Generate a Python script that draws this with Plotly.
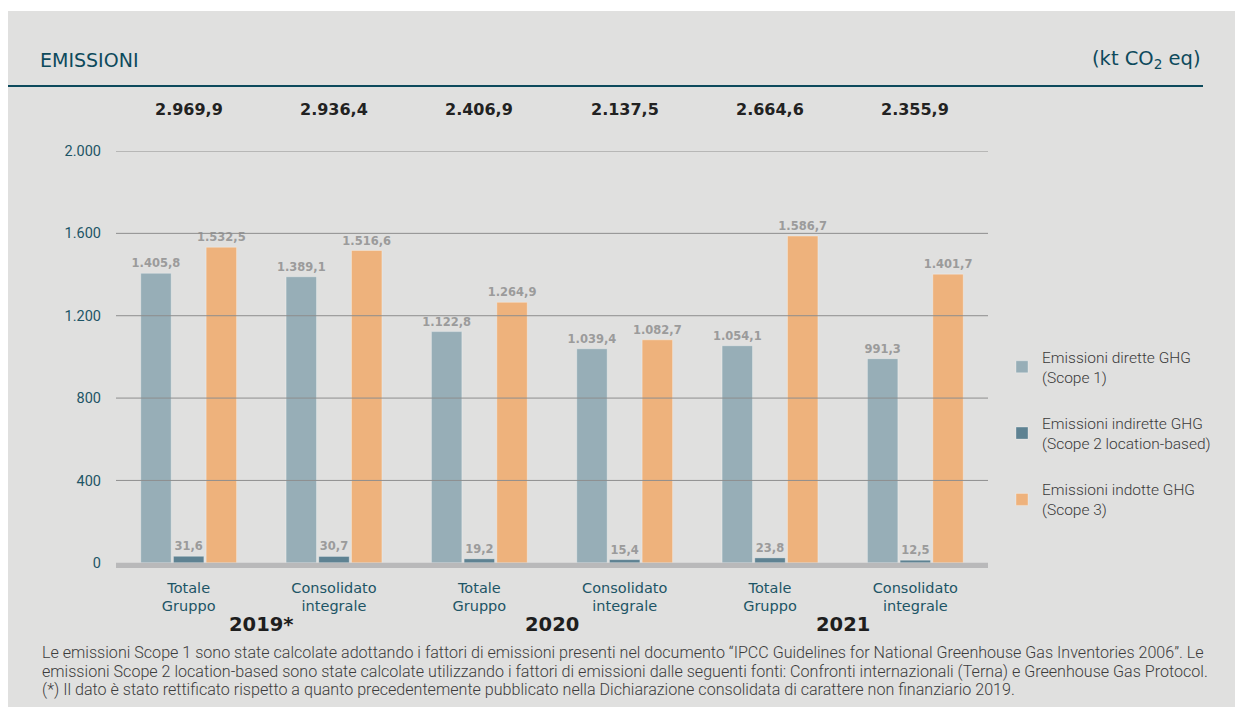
import plotly.graph_objects as go

# data
groups = ["Totale<br>Gruppo", "Consolidato<br>integrale"] * 3
years = ["2019*", "2020", "2021"]
scope1 = [1405.8, 1389.1, 1122.8, 1039.4, 1054.1, 991.3]
scope2 = [31.6, 30.7, 19.2, 15.4, 23.8, 12.5]
scope3 = [1532.5, 1516.6, 1264.9, 1082.7, 1586.7, 1401.7]
totals = [2969.9, 2936.4, 2406.9, 2137.5, 2664.6, 2355.9]
y_ticks = [0, 400, 800, 1200, 1600, 2000]

series = [
    ("Emissioni dirette GHG<br>(Scope 1)", scope1, "#97aeb7"),
    ("Emissioni indirette GHG<br>(Scope 2 location-based)", scope2, "#5e8292"),
    ("Emissioni indotte GHG<br>(Scope 3)", scope3, "#eeb27c"),
]
note_lines = [
    "Le emissioni Scope 1 sono state calcolate adottando i fattori di emissioni presenti nel documento "
    "“IPCC Guidelines for National Greenhouse Gas Inventories 2006”. Le",
    "emissioni Scope 2 location-based sono state calcolate utilizzando i fattori di emissioni dalle seguenti "
    "fonti: Confronti internazionali (Terna) e Greenhouse Gas Protocol.",
    "(*) Il dato è stato rettificato rispetto a quanto precedentemente pubblicato nella Dichiarazione "
    "consolidata di carattere non finanziario 2019.",
]

# page has an 8px body margin, so the figure is a bit smaller than the window
OFF = 8
W, H = 1243 - OFF, 707 - OFF
# plot area in page pixels (y range -35..2000, zero sits at ~562.5)
L, R, T, B = 116, 988, 151, 569.7
Y_MIN = -35
TEAL = "#0d4a5c"
TICK = "#1d5566"
WIDE = "DejaVu Sans"


def px_x(x):
    return (x - L) / (R - L)


def px_y(y):
    return (B - y) / (B - T)


def it_num(v, dec=1):
    s = f"{v:,.{dec}f}"
    return s.replace(",", "X").replace(".", ",").replace("X", ".")


x_pos = list(range(len(groups)))

fig = go.Figure()
for i, (name, vals, color) in enumerate(series):
    fig.add_trace(
        go.Bar(
            x=x_pos,
            y=vals,
            name=name,
            legendgroup=str(i),
            marker=dict(color=color, line=dict(color="rgba(255,255,255,0.3)", width=1)),
            text=[it_num(v) for v in vals],
            textposition="outside",
            constraintext="none",
            textfont=dict(family=WIDE, size=11.5, color="#9b9b9b", weight="bold"),
            cliponaxis=False,
        )
    )

# gridlines drawn over the bars like in the original
for t in y_ticks[1:]:
    fig.add_shape(type="line", xref="paper", yref="y", x0=0, x1=1, y0=t, y1=t,
                  line=dict(color="#8e8e8e", width=1), layer="above")
# thick grey base band just under zero
fig.add_shape(type="rect", xref="paper", yref="y", x0=0, x1=1, y0=-25, y1=0,
              fillcolor="#b9b9ba", line=dict(width=0), layer="above")

# background panel and header rule
fig.add_shape(type="rect", xref="paper", yref="paper",
              x0=px_x(8), x1=px_x(1238), y0=px_y(710), y1=px_y(11),
              fillcolor="#e0e0df", line=dict(width=0), layer="below")
fig.add_shape(type="line", xref="paper", yref="paper",
              x0=px_x(8), x1=px_x(1203), y0=px_y(86), y1=px_y(86),
              line=dict(color=TEAL, width=2))

ann = [
    dict(text="EMISSIONI", x=px_x(38), y=px_y(60), xanchor="left", yanchor="middle",
         font=dict(family=WIDE, size=19, color=TEAL)),
    dict(text="(kt CO<sub>2</sub> eq)", x=px_x(1203), y=px_y(60), xanchor="right", yanchor="middle",
         font=dict(family=WIDE, size=19.5, color=TEAL)),
]
for i, tot in enumerate(totals):
    ann.append(dict(text=f"<b>{it_num(tot)}</b>", x=i, xref="x", y=px_y(110), yanchor="middle",
                    font=dict(family=WIDE, size=16, color="#222222")))
for j, yr in enumerate(years):
    ann.append(dict(text=f"<b>{yr}</b>", x=2 * j + 0.5, xref="x", y=px_y(624), yanchor="middle",
                    font=dict(family=WIDE, size=19.5, color="#1e1e1e")))
for k, line in enumerate(note_lines):
    ann.append(dict(text=line, x=px_x(40), y=px_y(652.5 + 18.3 * k), xanchor="left", yanchor="middle",
                    font=dict(family="Roboto", size=16.1, color="#3c3c3c", weight=300)))
for a in ann:
    a.setdefault("xref", "paper")
    a.setdefault("yref", "paper")
    a["showarrow"] = False

fig.update_layout(
    width=W,
    height=H,
    autosize=False,
    margin=dict(l=L - OFF, r=W - (R - OFF), t=T - OFF, b=H - (B - OFF), pad=0),
    paper_bgcolor="white",
    plot_bgcolor="rgba(0,0,0,0)",
    barmode="group",
    bargap=0.325,
    bargroupgap=0.07,
    annotations=ann,
    showlegend=True,
    legend=dict(
        x=px_x(1002), y=px_y(340), xanchor="left", yanchor="top",
        font=dict(family="Roboto", size=15.5, color="#3a3a3a", weight=300),
        tracegroupgap=23, bgcolor="rgba(0,0,0,0)",
    ),
    xaxis=dict(
        tickvals=x_pos, ticktext=groups, range=[-0.5, 5.5],
        showgrid=False, zeroline=False, showline=False, ticks="",
        tickfont=dict(family=WIDE, size=14.5, color=TICK),
        ticklabelstandoff=7,
    ),
    yaxis=dict(
        range=[Y_MIN, 2000], tickvals=y_ticks, ticktext=[it_num(t, 0) for t in y_ticks],
        showgrid=False, zeroline=False, showline=False, ticks="",
        tickfont=dict(family="Roboto", size=14.5, color=TICK),
        ticklabelstandoff=14,
    ),
    font=dict(family="Roboto"),
)

fig.write_html("out.html")
